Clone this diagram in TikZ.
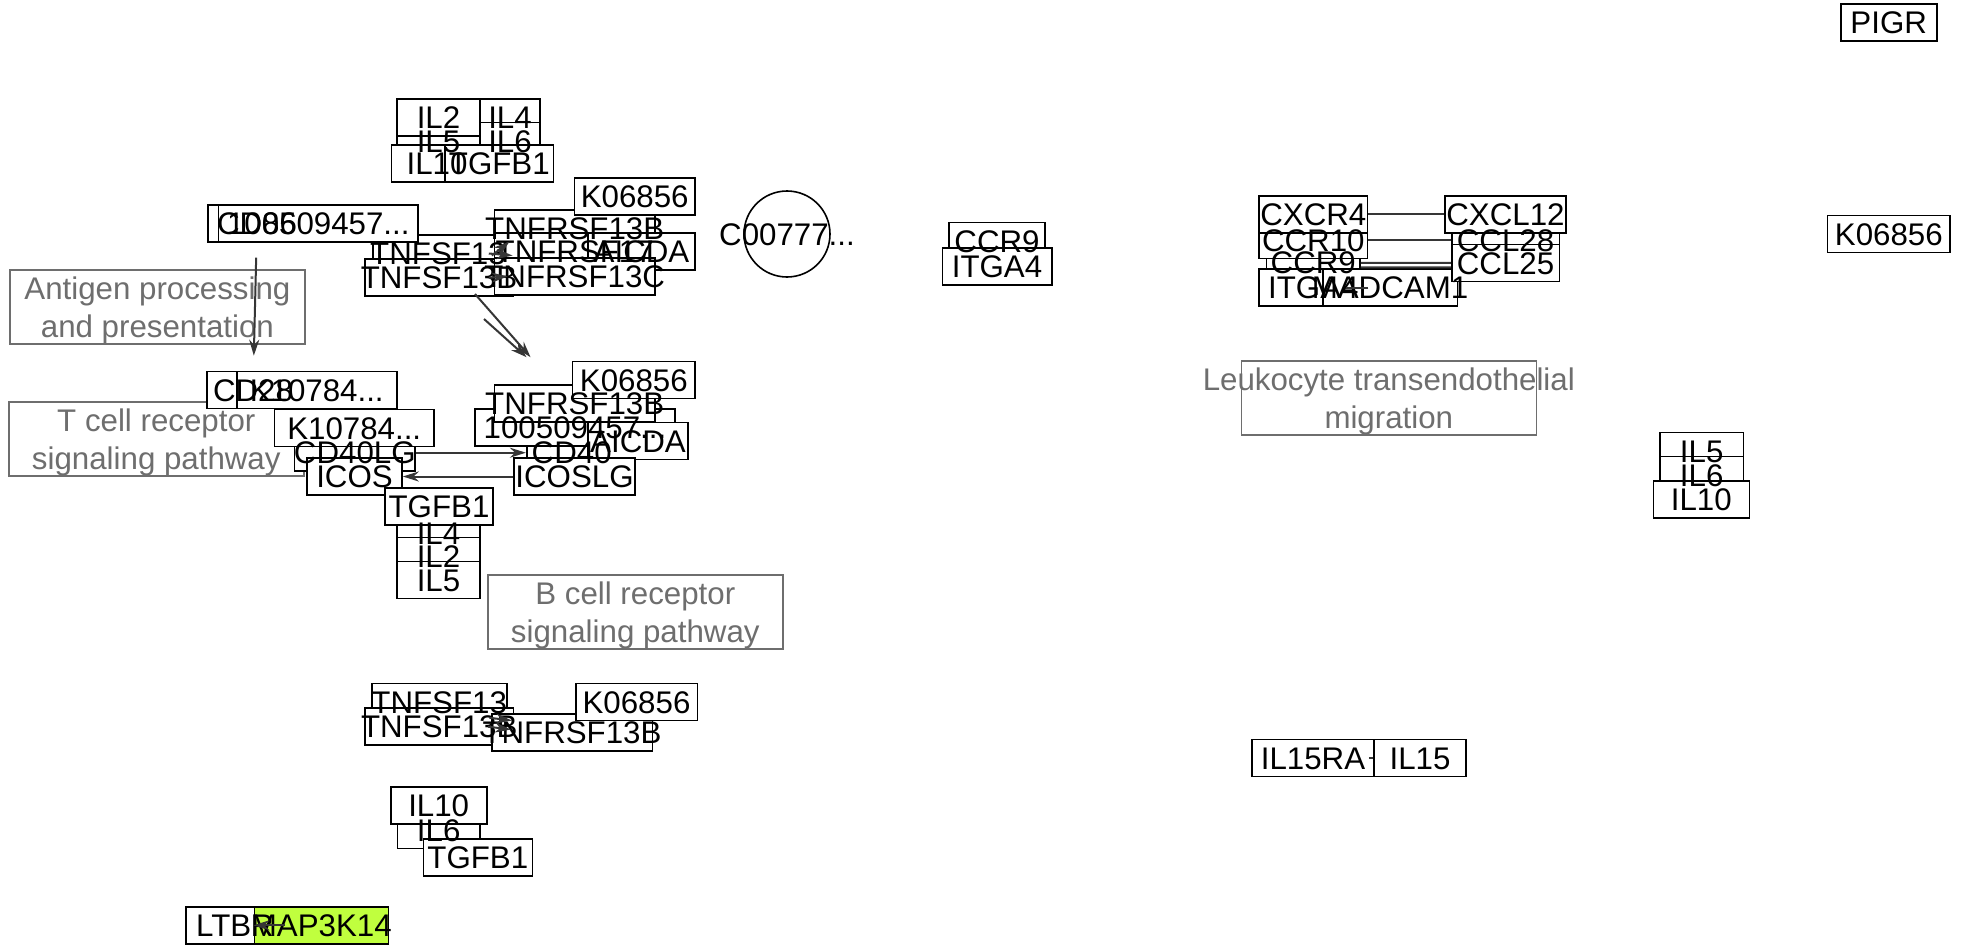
\documentclass[tikz,border=0pt]{standalone}
\usepackage{fontspec}
\setmainfont{Liberation Sans}
\usetikzlibrary{arrows.meta,calc,positioning}
\definecolor{pwgray}{HTML}{6E6E6E}
\definecolor{linkgray}{HTML}{363636}
\definecolor{hitgreen}{HTML}{C0FF3E}
\newlength{\pxu}
\setlength{\pxu}{0.02cm}
\newcommand{\genefont}{\fontsize{17.8}{21.5}\selectfont}
\newcommand{\trunc}{...}

\begin{document}
\begin{tikzpicture}[
    x=\pxu, y=-\pxu,
    gene/.style={draw=black, fill=white, line width=1.6\pxu, minimum height=37\pxu, inner sep=0pt},
    wd/.style={minimum width=#1\pxu},
    pw/.style={draw=pwgray, fill=white, line width=1.6\pxu, minimum width=295\pxu, minimum height=74\pxu, inner sep=0pt},
    cpd/.style={circle, draw=black, line width=1.6\pxu, minimum size=86\pxu, inner sep=0pt},
    lbl/.style={inner sep=0pt, text height=12.8pt, text depth=0pt, font=\genefont},
    pwlbl/.style={inner sep=0pt, align=center, text=pwgray, font=\genefont, yshift=-0.07cm},
    link/.style={draw=linkgray, line width=2\pxu},
    linkarr/.style={link, -{Stealth[length=0.32cm, width=0.2cm]}},
]
\useasboundingbox (0,0) rectangle (1961,946);

% pathway maps
\node[pw] (antigen) at (157.4,307) {};
\node[pw] (tcell) at (156.3,439.2) {};
\node[pw] (bcell) at (635.3,612) {};
\node[pw] (leuko) at (1388.8,398) {};

% cytokines, top left
\node[gene, wd=83] (il5a) at (438.5,141) {};
\node[gene, wd=83] (il2a) at (438.5,117.5) {};
\node[gene, wd=60] (il4a) at (510,117.5) {};
\node[gene, wd=60] (il6a) at (510,141) {};
\node[gene, wd=91] (il10a) at (437,163.5) {};
\node[gene, wd=108.6] (tgfb1a) at (499.3,163.5) {};

% antigen presenting cell
\node[gene, wd=98.6] (cd86) at (257,223.3) {};
\node[gene, wd=130] (tnfsf13a) at (438,253.5) {};
\node[gene, wd=199.5] (id100a) at (318.3,223.3) {};
\node[gene, wd=148.3] (tnfsf13ba) at (439,277.7) {};
\node[gene, wd=160.7] (tnfrsf13ba) at (574.7,228.3) {};
\node[gene, wd=160.7] (tnfrsf17a) at (574.7,251.5) {};
\node[gene, wd=107] (aicdaa) at (641.5,251.5) {};
\node[gene, wd=160.7] (tnfrsf13ca) at (574.7,276.5) {};
\node[gene, wd=120.7] (k06856a) at (634.7,196.3) {};

% T cell / B cell contact
\node[gene, wd=92.6] (cd28) at (253,390) {};
\node[gene, wd=160] (k10784a) at (316.7,390) {};
\node[gene, wd=120.4] (cd40lg) at (354.8,452.7) {};
\node[gene, wd=159.5] (k10784b) at (354.2,428) {};
\node[gene, wd=95] (icos) at (354.5,476.5) {};
\node[gene, wd=83] (il4b) at (438.5,533) {};
\node[gene, wd=108] (tgfb1b) at (439,506.5) {};
\node[gene, wd=83] (il2b) at (438.5,556) {};
\node[gene, wd=83] (il5b) at (438.5,580) {};
\node[gene, wd=90] (cd40) at (571.7,452.7) {};
\node[gene, wd=200] (id100b) at (575,427.5) {};
\node[gene, wd=100] (aicdab) at (638,441) {};
\node[gene, wd=160.7] (tnfrsf13bb) at (574.7,403.5) {};
\node[gene, wd=122.3] (k06856b) at (633.8,380) {};
\node[gene, wd=121] (icoslg) at (574.5,476.5) {};

% bottom left
\node[gene, wd=135] (tnfsf13c) at (439.2,701.8) {};
\node[gene, wd=148.3] (tnfsf13bc) at (439.2,726.7) {};
\node[gene, wd=160.6] (tnfrsf13bc) at (572,732.5) {};
\node[gene, wd=121.6] (k06856c) at (636.5,702) {};
\node[gene, wd=82.7] (il6c) at (438.7,829.8) {};
\node[gene, wd=96] (il10c) at (438.7,805.3) {};
\node[gene, wd=109] (tgfb1c) at (477.8,857.5) {};
\node[gene, wd=98] (ltbr) at (235,925.3) {};
\node[gene, wd=134, fill=hitgreen] (map3k14) at (321.3,925.3) {};

% homing
\node[cpd] (c00777) at (787,234) {};
\node[gene, wd=96] (ccr9m) at (997,240.8) {};
\node[gene, wd=109.4] (itga4m) at (997,266.7) {};
\node[gene, wd=93.3] (ccr9r) at (1313.3,262.7) {};
\node[gene, wd=108.7] (ccr10) at (1313.3,240) {};
\node[gene, wd=108.7] (cxcr4) at (1313.3,214.3) {};
\node[gene, wd=108.7] (itga4r) at (1313.3,287.5) {};
\node[gene, wd=134.6] (madcam1) at (1390,287.5) {};
\node[gene, wd=107.6] (ccl28) at (1505.5,240) {};
\node[gene, wd=121] (cxcl12) at (1505.5,214.3) {};
\node[gene, wd=107.6] (ccl25) at (1505.5,263) {};

% right side
\node[gene, wd=96] (pigr) at (1888.7,22.5) {};
\node[gene, wd=122.3] (k06856r) at (1888.8,234) {};
\node[gene, wd=83.3] (il5r) at (1701.7,451) {};
\node[gene, wd=83.3] (il6r) at (1701.7,475) {};
\node[gene, wd=96] (il10r) at (1701.3,499.7) {};
\node[gene, wd=122] (il15ra) at (1313,758) {};
\node[gene, wd=92] (il15) at (1420,758) {};

% labels on top of all boxes
\foreach \n/\t in {il5a/IL5, il2a/IL2, il4a/IL4, il6a/IL6, il10a/IL10, tgfb1a/TGFB1,
    cd86/CD86, tnfsf13a/TNFSF13, id100a/100509457\trunc, tnfsf13ba/TNFSF13B,
    tnfrsf13ba/TNFRSF13B, tnfrsf17a/TNFRSF17, aicdaa/AICDA, tnfrsf13ca/TNFRSF13C, k06856a/K06856,
    cd28/CD28, k10784a/K10784\trunc, cd40lg/CD40LG, k10784b/K10784\trunc, icos/ICOS,
    il4b/IL4, tgfb1b/TGFB1, il2b/IL2, il5b/IL5, cd40/CD40, id100b/100509457\trunc,
    aicdab/AICDA, tnfrsf13bb/TNFRSF13B, k06856b/K06856, icoslg/ICOSLG,
    tnfsf13c/TNFSF13, tnfsf13bc/TNFSF13B, tnfrsf13bc/TNFRSF13B, k06856c/K06856,
    il6c/IL6, il10c/IL10, tgfb1c/TGFB1, ltbr/LTBR, map3k14/MAP3K14,
    c00777/C00777\trunc, ccr9m/CCR9, itga4m/ITGA4, ccr9r/CCR9, ccr10/CCR10, cxcr4/CXCR4,
    itga4r/ITGA4, madcam1/MADCAM1, ccl28/CCL28, cxcl12/CXCL12, ccl25/CCL25,
    pigr/PIGR, k06856r/K06856, il5r/IL5, il6r/IL6, il10r/IL10, il15ra/IL15RA, il15/IL15}
    \node[lbl] (\n-t) at (\n) {\t};
\foreach \n/\t in {antigen/{Antigen processing\\and presentation},
    tcell/{T cell receptor\\signaling pathway},
    bcell/{B cell receptor\\signaling pathway},
    leuko/{Leukocyte transendothelial\\migration}}
    \node[pwlbl] (\n-t) at (\n) {\t};

% relations
\draw[linkarr, shorten <=0.3cm, shorten >=0.3cm] (cd86) -- (cd28);
\draw[linkarr] ($(tnfsf13a.east)+(-12,2)$) -- ($(tnfrsf13ba.south west)+(16,-6)$);
\draw[linkarr] ($(tnfsf13a.east)+(-15,0)$) -- ($(tnfrsf17a.west)+(19,4)$);
\draw[linkarr] ($(tnfsf13ba.east)+(-25,0)$) -- ($(tnfrsf13ca.west)+(14,0)$);
\draw[linkarr] ($(tnfsf13ba.south)+(36,-3)$) -- ($(tnfrsf13bb.north west)+(37,-27)$);
\draw[linkarr] ($(tnfsf13ba.south)+(45,22)$) -- ($(tnfrsf13bb.north west)+(33,-27)$);
\draw[linkarr] (cd40lg) -- (cd40);
\draw[linkarr] (icoslg) -- (icos);
\draw[linkarr] ($(tnfsf13c.east)+(-18,16)$) -- ($(tnfrsf13bc.west)+(21,-12)$);
\draw[linkarr] ($(tnfsf13bc.east)+(-26,0)$) -- ($(tnfrsf13bc.west)+(20,-3)$);
\draw[linkarr] (ltbr) -- (map3k14);
\draw[link] (cxcr4) -- (cxcl12);
\draw[link] (ccr10) -- (ccl28);
\draw[link] (ccr9r) -- (ccl25);
\draw[link] ($(ccr9r.east)+(0,4.6)$) -- ($(ccl25.west)+(0,4.3)$);
\draw[link, shorten >=0.48cm] (itga4r) -- (madcam1);
\draw[link] ($(il15ra.east)+(-6,0)$) -- (il15.west);
\end{tikzpicture}
\end{document}
